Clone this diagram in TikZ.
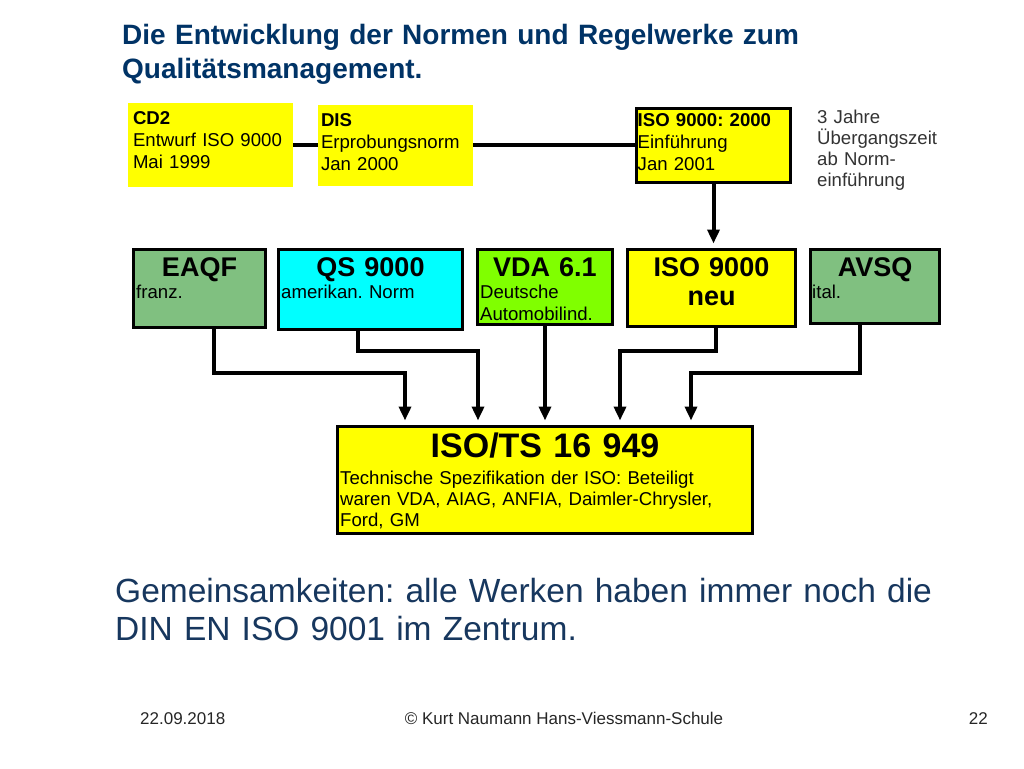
\documentclass[tikz,border=0pt]{standalone}
\usepackage{fontspec}
\setmainfont{Liberation Sans}
\usepackage{tikz}
\usetikzlibrary{calc,arrows.meta}

\definecolor{titleblue}{RGB}{0,51,102}
\definecolor{textblue}{RGB}{23,55,94}
\definecolor{normyellow}{RGB}{255,255,0}
\definecolor{normgreen}{RGB}{128,192,128}
\definecolor{normcyan}{RGB}{0,255,255}
\definecolor{normlime}{RGB}{128,255,0}

\begin{document}
\frenchspacing
\begin{tikzpicture}[
                    x=1pt, y=-1pt,
                    box/.style={
                        rectangle,
                        draw=black,
                        line width=3pt,
                        inner sep=0pt
                    },
                    paper/.style={rectangle, inner sep=0pt},
                    boxtext/.style={
                        anchor=base west,
                        inner sep=0pt,
                        text width=400pt,
                        align=left,
                        font=\fontsize{18.6}{22}\selectfont
                    },
                    boxhead/.style={
                        anchor=base,
                        inner sep=0pt,
                        text width=400pt,
                        align=center,
                        font=\fontsize{27}{29}\selectfont\bfseries
                    },
                    link/.style={line width=4pt},
                    flow/.style={line width=4pt, -{Triangle[width=12pt,length=14pt]}, shorten >=4pt}
                ]

                    \fill[white] (0,0) rectangle (1024,768);
                    \useasboundingbox (0,0) rectangle (1024,768);

                    % Title
                    \node[boxtext, text width=800pt, text=titleblue,
                          font=\fontsize{28}{34}\selectfont\bfseries] (title) at (122,45)
                        {Die Entwicklung der Normen und Regelwerke zum\\Qualitätsmanagement.};

                    % Drafts
                    \node[paper, fill=normyellow, minimum width=165, minimum height=84] (cd2) at (210.5,145) {};
                    \node[paper, fill=normyellow, minimum width=155, minimum height=81] (dis) at (395.5,145) {};
                    \node[box, fill=normyellow, minimum width=154, minimum height=74] (iso2000) at (713.5,145) {};
                    \node[boxtext] (cd2t) at ($(cd2.north west)+(5,22)$) {\textbf{CD2}\\Entwurf ISO 9000\\Mai 1999};
                    \node[boxtext] (dist) at ($(dis.north west)+(3,22)$) {\textbf{DIS}\\Erprobungsnorm\\Jan 2000};
                    \node[boxtext] (iso2000t) at ($(iso2000.north west)+(2.5,20)$) {\textbf{ISO 9000: 2000}\\Einführung\\Jan 2001};
                    \node[boxtext, text=black!80, font=\fontsize{18.6}{21.3}\selectfont] (trans) at (817,123)
                        {3 Jahre\\Übergangszeit\\ab Norm-\\einführung};

                    % Norms
                    \node[box, fill=normgreen, anchor=north, minimum width=132, minimum height=78] (eaqf) at (199.5,247.5) {};
                    \node[box, fill=normcyan, anchor=north, minimum width=184, minimum height=80] (qs) at (370.5,247.5) {};
                    \node[box, fill=normlime, anchor=north, minimum width=135, minimum height=75] (vda) at (545,247.5) {};
                    \node[box, fill=normyellow, anchor=north, minimum width=168, minimum height=77] (isoneu) at (711.5,247.5) {};
                    \node[box, fill=normgreen, anchor=north, minimum width=129, minimum height=74] (avsq) at (875,247.5) {};

                    \node[boxhead] (eaqfh) at ($(eaqf.north)+(0,28.5)$) {EAQF};
                    \node[boxtext] (eaqft) at ($(eaqf.north west)+(4,50.5)$) {franz.};
                    \node[boxhead] (qsh) at ($(qs.north)+(0,28.5)$) {QS 9000};
                    \node[boxtext] (qst) at ($(qs.north west)+(4,50.5)$) {amerikan. Norm};
                    \node[boxhead] (vdah) at ($(vda.north)+(0,28.5)$) {VDA 6.1};
                    \node[boxtext] (vdat) at ($(vda.north west)+(4,50.5)$) {Deutsche\\Automobilind.};
                    \node[boxhead] (isoneuh) at ($(isoneu.north)+(0,29)$) {ISO 9000\\neu};
                    \node[boxhead] (avsqh) at ($(avsq.north)+(0,28.5)$) {AVSQ};
                    \node[boxtext] (avsqt) at ($(avsq.north west)+(3,50.5)$) {ital.};

                    % Result
                    \node[box, fill=normyellow, anchor=north, minimum width=415, minimum height=107] (ts) at (545,424.5) {};
                    \node[boxhead, font=\fontsize{34}{38}\selectfont\bfseries] (tsh) at ($(ts.north)+(0,32.5)$) {ISO/TS 16 949};
                    \node[boxtext, font=\fontsize{18.6}{21}\selectfont] (tst) at ($(ts.north west)+(4,60)$)
                        {Technische Spezifikation der ISO: Beteiligt\\waren VDA, AIAG, ANFIA, Daimler-Chrysler,\\Ford, GM};

                    % Edges
                    \draw[link] (cd2.east) -- (dis.west);
                    \draw[link] (dis.east) -- (iso2000.west);
                    \draw[flow] (iso2000.south) -- (iso2000.south |- isoneu.north);
                    \draw[flow] ($(eaqf.south)+(14.5,0)$) |- ($(ts.north)+(-140,-52)$) -- ($(ts.north)+(-140,0)$);
                    \draw[flow] ($(qs.south)+(-12.5,0)$) |- ($(ts.north)+(-67,-74)$) -- ($(ts.north)+(-67,0)$);
                    \draw[flow] (vda.south) -- (vda.south |- ts.north);
                    \draw[flow] ($(isoneu.south)+(4.5,0)$) |- ($(ts.north)+(75,-74)$) -- ($(ts.north)+(75,0)$);
                    \draw[flow] ($(avsq.south)+(-15,0)$) |- ($(ts.north)+(146,-52)$) -- ($(ts.north)+(146,0)$);

                    % Summary and footer
                    \node[boxtext, text width=900pt, text=textblue, font=\fontsize{33.5}{38}\selectfont] (summary) at (115,602)
                        {Gemeinsamkeiten: alle Werken haben immer noch die\\DIN EN ISO 9001 im Zentrum.};
                    \node[boxtext, text=black!85, font=\fontsize{17}{20}\selectfont] (date) at (140,724) {22.09.2018};
                    \node[anchor=base, inner sep=0pt, text=black!85, font=\fontsize{17}{20}\selectfont] (author) at (564,724)
                        {© Kurt Naumann Hans-Viessmann-Schule};
                    \node[anchor=base east, inner sep=0pt, text=black!85, font=\fontsize{17}{20}\selectfont] (page) at (988,724) {22};
                \end{tikzpicture}
\end{document}
